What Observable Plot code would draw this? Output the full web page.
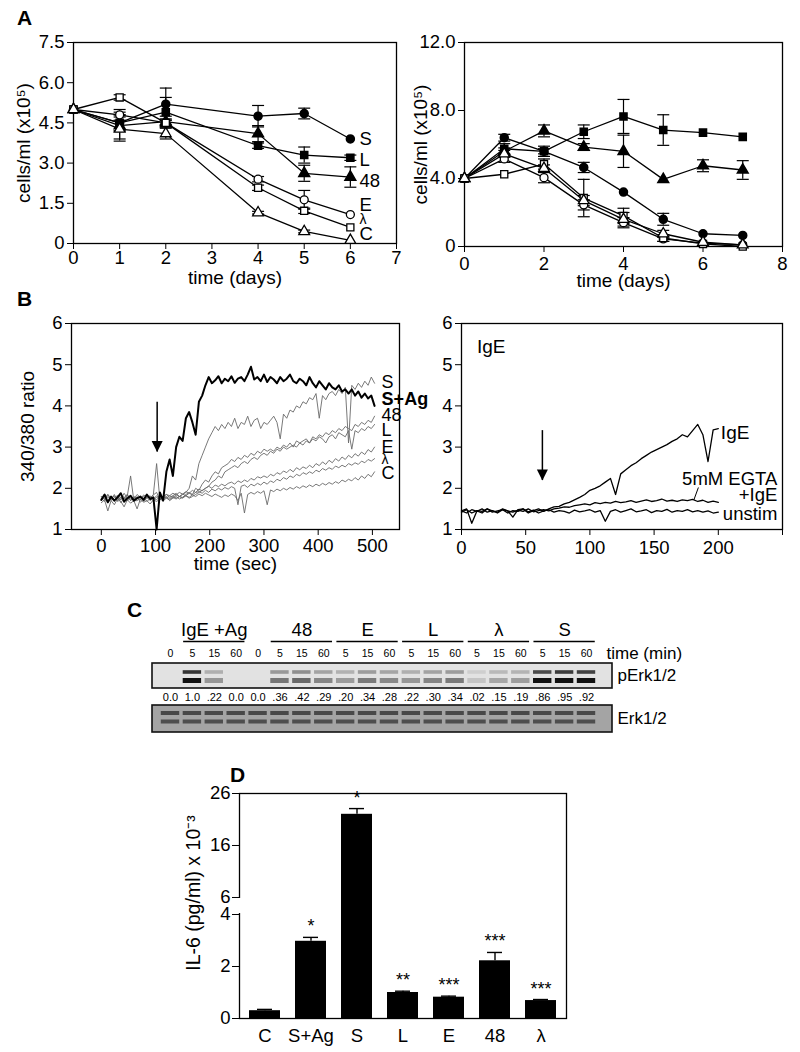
<!DOCTYPE html>
<html><head><meta charset="utf-8">
<script src="https://cdn.jsdelivr.net/npm/d3@7"></script>
<script src="https://cdn.jsdelivr.net/npm/@observablehq/plot@0.6"></script>
<style>
body{margin:0;background:#fff;}
#fig{position:relative;width:800px;height:1052px;overflow:hidden;font-family:"Liberation Sans",Arial,Helvetica,sans-serif;color:#000;background:#fff;}
.panel{position:absolute;}
.letter{position:absolute;font-weight:bold;font-size:21px;line-height:1;}
</style></head><body><div id="fig"></div>
<script>
// ---------- Panel A data (cells/ml x10^5) ----------
const seriesNames   = ["S","L","48","E","λ","C"];
const seriesSymbols = ["circle","square","triangle","circle","square","triangle"];
const filledSeries  = ["S","L","48"];

const daysA1 = [0,1,2,4,5,6];
const A1_S  = [5.0, 4.50, 5.20, 4.75, 4.85, 3.90];
const A1_L  = [5.0, 4.50, 4.90, 3.65, 3.30, 3.20];
const A1_48 = [5.0, 4.40, 4.55, 4.10, 2.62, 2.48];
const A1_E  = [5.0, 4.80, 4.50, 2.40, 1.63, 1.08];
const A1_La = [5.0, 5.45, 4.50, 2.08, 1.22, 0.60];
const A1_C  = [5.0, 4.27, 4.10, 1.15, 0.45, 0.12];
const A1_S_err  = [0, 0.30, 0.60, 0.40, 0.20, 0];
const A1_L_err  = [0, 0.30, 0.55, 0.10, 0.30, 0.10];
const A1_48_err = [0, 0.50, 0.20, 0.30, 0.30, 0.38];
const A1_E_err  = [0, 0.20, 0.15, 0.10, 0.35, 0];
const A1_La_err = [0, 0.10, 0.10, 0.10, 0.10, 0];
const A1_C_err  = [0, 0.45, 0.20, 0.05, 0.05, 0];
const A1_labelY = [3.90, 3.12, 2.34, 1.45, 0.91, 0.35];

const daysA2 = [0,1,2,3,4,5,6,7];
const A2_S  = [4.0, 6.40, 5.60, 4.65, 3.20, 1.60, 0.75, 0.65];
const A2_L  = [4.0, 5.75, 5.60, 6.75, 7.65, 6.85, 6.70, 6.45];
const A2_48 = [4.0, 5.60, 6.80, 5.85, 5.60, 3.95, 4.75, 4.50];
const A2_E  = [4.0, 5.15, 4.05, 2.45, 1.40, 0.45, 0.20, 0.10];
const A2_La = [4.0, 4.25, 4.85, 2.85, 1.80, 0.50, 0.15, 0.00];
const A2_C  = [4.0, 5.45, 4.60, 2.70, 1.60, 0.75, 0.25, 0.10];
const A2_S_err  = [0, 0.20, 0.15, 0.30, 0, 0.35, 0, 0];
const A2_L_err  = [0, 0.30, 0.30, 0.40, 1.00, 0.90, 0, 0];
const A2_48_err = [0, 0.20, 0.35, 0.20, 0.95, 0, 0.35, 0.55];
const A2_E_err  = [0, 0.20, 0.30, 0.30, 0.30, 0.15, 0, 0];
const A2_La_err = [0, 0, 0.30, 1.10, 0.45, 0.20, 0, 0];
const A2_C_err  = [0, 0.20, 0.20, 0.30, 0.40, 0.20, 0, 0];

// ---------- Panel B data (340/380 ratio) ----------
const tB1 = d3.range(0, 505, 6); // sample times, s
const B1_SAg = [1.72,1.85,1.66,1.80,1.70,1.78,1.88,1.68,1.75,1.82,1.70,1.76,1.80,1.72,1.85,1.74,1.78,
  1.00,1.90,1.70,2.40,2.70,2.30,3.00,3.25,3.15,3.70,3.85,3.60,3.30,4.10,4.25,4.50,4.70,
  4.55,4.62,4.72,4.55,4.66,4.60,4.72,4.56,4.66,4.70,4.60,4.76,4.95,4.64,4.70,4.60,4.76,4.58,4.70,4.64,4.55,4.70,4.60,4.66,4.76,4.60,4.55,4.66,4.60,4.50,4.70,4.55,4.45,4.60,4.50,4.40,4.55,4.45,4.40,4.50,4.35,4.40,4.30,4.40,4.25,4.35,4.20,4.30,4.18,4.25,4.00];
const B1_S = [1.80,1.75,1.85,1.70,1.78,1.82,1.72,1.88,1.76,1.80,1.74,1.85,1.78,1.70,1.82,1.76,1.84,1.90,1.72,1.80,1.85,1.78,1.82,1.88,1.80,1.85,1.90,
  2.00,2.30,2.20,2.60,2.80,3.00,3.20,3.35,3.50,
  3.40,3.55,3.45,3.60,3.50,3.70,3.45,3.60,3.55,3.75,3.50,3.65,3.70,3.45,3.60,3.55,3.65,3.75,3.60,3.20,3.80,3.70,3.90,3.85,4.00,3.95,4.10,4.05,4.20,4.15,4.30,3.70,4.25,4.15,4.30,4.35,4.25,4.40,4.30,4.45,3.10,4.50,4.40,4.55,4.45,4.60,4.50,4.70,4.55];
const B1_48 = [1.75,1.68,1.80,1.72,1.85,1.70,1.78,1.65,1.82,2.30,1.70,1.70,1.76,1.80,1.68,1.75,1.85,2.60,1.72,1.78,1.80,1.74,1.82,1.76,1.80,1.78,
  1.85,1.90,1.85,2.00,1.95,2.10,2.20,2.15,2.30,2.40,2.35,2.50,2.55,2.60,2.70,2.65,2.75,2.70,2.80,2.75,2.85,2.80,2.90,2.85,2.95,2.90,2.95,2.90,3.00,2.95,3.05,3.00,3.10,3.00,3.15,3.10,3.15,3.20,3.10,3.25,3.20,3.30,3.25,3.35,3.30,3.40,3.35,3.45,3.40,3.50,3.45,3.40,3.55,3.50,3.60,3.55,3.65,3.60,3.75];
const B1_L = [1.70,1.78,1.65,1.75,1.82,1.68,1.74,1.80,1.70,1.76,1.72,1.80,1.66,1.74,1.78,1.70,1.76,1.72,1.80,1.74,1.78,1.70,1.76,1.80,1.74,1.78,1.82,1.76,1.80,
  1.85,1.90,1.95,2.00,2.05,2.15,2.20,2.30,2.25,2.40,2.45,2.50,2.55,2.50,2.60,2.65,2.60,2.70,2.75,2.70,2.80,2.85,2.80,2.90,2.85,2.95,2.90,3.00,2.95,3.00,3.05,3.00,3.10,3.05,3.15,3.10,3.20,3.15,3.25,3.20,3.10,3.25,3.30,3.20,3.35,3.30,3.25,3.40,2.95,3.40,3.35,3.45,3.40,3.50,3.45,3.55];
const B1_E = [1.80,1.72,1.85,1.76,1.70,1.82,1.78,1.74,1.86,1.70,1.80,1.76,1.72,1.84,1.78,1.80,1.74,1.82,1.76,1.80,
  1.85,1.82,1.88,1.84,1.90,1.86,1.92,1.88,1.95,1.90,1.98,1.94,2.00,2.05,2.00,2.08,2.04,2.10,2.06,2.12,2.15,2.10,2.18,2.14,2.20,2.16,2.24,2.20,2.28,2.25,2.30,2.26,2.34,2.30,2.38,2.34,2.42,2.38,2.46,2.40,2.50,2.45,2.52,2.48,2.56,2.50,2.60,2.55,2.64,2.58,2.68,2.62,2.72,2.66,2.76,2.70,2.80,2.74,2.84,2.78,2.88,2.82,2.94,2.88,3.00];
const B1_La = [1.75,1.82,1.68,1.78,1.72,1.80,1.65,1.76,1.84,1.70,1.78,1.74,1.80,1.68,1.76,1.82,1.72,1.78,1.74,1.80,1.76,1.82,1.78,1.84,1.80,1.86,1.82,1.88,1.84,1.90,
  1.92,1.88,1.95,1.90,1.98,1.94,2.00,1.96,2.02,1.98,2.04,2.00,1.60,2.05,2.08,2.02,2.10,2.06,2.12,2.08,2.15,2.10,2.18,2.14,2.22,2.18,2.26,2.22,2.30,2.26,2.34,2.30,2.38,2.34,2.40,2.36,2.44,2.40,2.48,2.44,2.50,2.46,2.54,2.50,2.56,2.52,2.60,2.56,2.62,2.58,2.66,2.62,2.70,2.66,2.72];
const B1_C = [1.65,1.72,1.45,1.70,1.60,1.75,1.68,1.55,1.72,1.64,1.70,1.50,1.74,1.66,1.70,1.62,1.72,1.68,1.74,1.70,1.76,1.72,1.78,1.74,1.80,1.76,1.82,1.78,1.84,1.80,
  1.86,1.82,1.88,1.84,1.80,1.86,1.82,1.78,1.84,1.80,1.86,1.82,1.70,1.88,1.40,1.85,1.90,1.86,1.92,1.88,1.94,1.60,1.96,1.92,1.98,1.94,2.00,1.96,2.02,1.98,2.04,2.00,2.06,2.02,2.08,2.04,2.10,2.06,2.12,2.08,2.14,2.10,2.16,2.12,2.20,2.16,2.22,2.18,2.26,2.20,2.30,2.24,2.34,2.28,2.40];
const B1_labels = ["S","S+Ag","48","L","E","λ","C"];
const B1_labelY = [4.57, 4.16, 3.77, 3.40, 2.99, 2.70, 2.36];
const B1_arrow = [{t: 103, top: 4.09, tip: 2.88}];

const tB2 = d3.range(0, 201, 4);
const B2_IgE = [1.45,1.50,1.15,1.45,1.40,1.50,1.45,1.42,1.50,1.45,1.30,1.48,1.50,1.40,1.46,1.50,1.44,1.50,1.55,1.56,
  1.62,1.66,1.72,1.78,1.85,1.95,2.00,2.06,2.15,2.24,1.85,2.35,2.45,2.55,2.62,2.72,2.80,2.88,2.94,3.00,
  3.06,3.14,3.20,3.30,3.25,3.40,3.55,3.30,2.65,3.42,3.45];
const B2_EGTA = [1.45,1.40,1.48,1.44,1.50,1.42,1.46,1.40,1.48,1.45,1.42,1.47,1.44,1.50,1.43,1.46,1.48,1.45,1.50,1.52,
  1.55,1.54,1.58,1.60,1.62,1.60,1.65,1.63,1.66,1.64,1.68,1.65,1.67,1.70,1.66,1.69,1.72,1.68,1.70,1.74,
  1.69,1.71,1.68,1.72,1.70,1.73,1.68,1.71,1.66,1.69,1.66];
const B2_unstim = [1.42,1.48,1.40,1.46,1.44,1.50,1.42,1.45,1.48,1.40,1.46,1.44,1.50,1.43,1.47,1.40,1.45,1.48,1.42,1.46,
  1.44,1.40,1.47,1.43,1.45,1.48,1.42,1.46,1.20,1.44,1.48,1.42,1.46,1.50,1.43,1.45,1.48,1.41,1.46,1.44,
  1.49,1.42,1.46,1.44,1.48,1.43,1.46,1.42,1.45,1.40,1.42];
const B2_arrow = [{t: 63, top: 3.40, tip: 2.19}];

// ---------- Panel C data (western blot) ----------
const laneTimes = ["0","5","15","60","0","5","15","60","5","15","60","5","15","60","5","15","60","5","15","60"];
const quantP = ["0.0","1.0",".22","0.0","0.0",".36",".42",".29",".20",".34",".28",".22",".30",".34",".02",".15",".19",".86",".95",".92"];
const groupNames = ["IgE +Ag","48","E","L","λ","S"];
const groupFirst = [1,5,8,11,14,17];
const groupLast  = [3,7,10,13,16,19];

// ---------- Panel D data (IL-6) ----------
const il6Cats   = ["C","S+Ag","S","L","E","48","λ"];
const il6Values = [0.30, 2.97, 22.0, 1.00, 0.82, 2.22, 0.69];
const il6Err    = [0.05, 0.15, 1.10, 0.05, 0.04, 0.32, 0.04];
const il6Stars  = ["", "*", "*", "**", "***", "***", "***"];
const il6Ticks  = [0, 2, 4, 6, 16, 26];
const il6Break  = [4, 6];

// ---------- helpers ----------
const FONT = '"Liberation Sans", Arial, Helvetica, sans-serif';
const baseStyle = {fontFamily: FONT, fontSize: "18.5px", color: "black", background: "transparent", overflow: "visible"};
const fig = document.getElementById("fig");
function place(node, left, top, w) {
  const d = document.createElement("div");
  d.className = "panel"; d.style.left = left + "px"; d.style.top = top + "px"; d.style.width = w + "px";
  d.appendChild(node); fig.appendChild(d);
}
function letter(txt, left, top) {
  const d = document.createElement("div");
  d.className = "letter"; d.textContent = txt; d.style.left = left + "px"; d.style.top = top + "px";
  fig.appendChild(d);
}
const capSymbol = {draw(ctx) { ctx.moveTo(-6, 0); ctx.lineTo(6, 0); }};
const arrowHead = {draw(ctx) { ctx.moveTo(0, 0); ctx.lineTo(-5.5, -11); ctx.lineTo(5.5, -11); ctx.closePath(); }};
const fmt1 = d => d === 0 ? "0" : d.toFixed(1);
const fmtInt = d => String(d);
const labelSize = s => s === "λ" ? 14 : 18.5;

function growthRows(days, list) {
  const rows = [];
  list.forEach(([name, vals, errs]) => vals.forEach((v, i) => rows.push({series: name, day: days[i], value: v, err: errs[i]})));
  return rows;
}
function growthPlot(rows, o) {
  const withErr = rows.filter(d => d.err > 0);
  return Plot.plot({
    width: 400, height: 300,
    marginLeft: o.ml, marginRight: o.mr, marginTop: o.mt, marginBottom: o.mb,
    style: baseStyle,
    x: {domain: o.xDomain, ticks: o.xTicks, tickSize: 6, tickPadding: o.xPad, tickFormat: fmtInt, label: null},
    y: {domain: o.yDomain, ticks: o.yTicks, tickSize: 6, tickPadding: 3, tickFormat: fmt1, label: null},
    symbol: {domain: seriesNames, range: seriesSymbols},
    marks: [
      Plot.frame({stroke: "black", strokeWidth: 1.3}),
      Plot.ruleX(withErr, {x: "day", y1: d => d.value - d.err, y2: d => d.value + d.err, stroke: "black", strokeWidth: 1.2}),
      Plot.dot(withErr, {x: "day", y: d => d.value + d.err, symbol: capSymbol, fill: "none", stroke: "black", strokeWidth: 1.2}),
      Plot.dot(withErr, {x: "day", y: d => d.value - d.err, symbol: capSymbol, fill: "none", stroke: "black", strokeWidth: 1.2}),
      Plot.line(rows, {x: "day", y: "value", z: "series", stroke: "black", strokeWidth: 1.3}),
      Plot.dot(rows.filter(d => filledSeries.includes(d.series)), {x: "day", y: "value", symbol: "series", r: 4, fill: "black", stroke: "black"}),
      Plot.dot(rows.filter(d => !filledSeries.includes(d.series)), {x: "day", y: "value", symbol: "series", r: 4, fill: "white", stroke: "black", strokeWidth: 1.3}),
      Plot.text(["time (days)"], {frameAnchor: "bottom", dy: o.xLabDy, textAnchor: "middle", fontSize: 19}),
      Plot.text(["cells/ml (x10⁵)"], {frameAnchor: "left", dx: o.yLabDx, rotate: -90, textAnchor: "middle", fontSize: 19}),
      ...(o.labels || [])
    ]
  });
}

// ---------- Panel A ----------
const rowsA1 = growthRows(daysA1, [["S", A1_S, A1_S_err], ["L", A1_L, A1_L_err], ["48", A1_48, A1_48_err],
  ["E", A1_E, A1_E_err], ["λ", A1_La, A1_La_err], ["C", A1_C, A1_C_err]]);
const labelsA1 = seriesNames.map((s, i) => ({s, y: A1_labelY[i]}));
place(growthPlot(rowsA1, {ml: 73, mr: 4, mt: 42, mb: 57, xDomain: [0, 7], xTicks: [0,1,2,3,4,5,6,7], xPad: 1,
  yDomain: [0, 7.5], yTicks: [0, 1.5, 3, 4.5, 6, 7.5], xLabDy: 40, yLabDx: -50,
  labels: [
    Plot.text(labelsA1.filter(d => d.s !== "λ"), {x: 6.2, y: "y", text: "s", textAnchor: "start", fontSize: 18.5}),
    Plot.text(labelsA1.filter(d => d.s === "λ"), {x: 6.2, y: "y", text: "s", textAnchor: "start", fontSize: 14})
  ]}), 0, 0, 400);

const rowsA2 = growthRows(daysA2, [["S", A2_S, A2_S_err], ["L", A2_L, A2_L_err], ["48", A2_48, A2_48_err],
  ["E", A2_E, A2_E_err], ["λ", A2_La, A2_La_err], ["C", A2_C, A2_C_err]]);
place(growthPlot(rowsA2, {ml: 64, mr: 18, mt: 42, mb: 54, xDomain: [0, 8], xTicks: [0,2,4,6,8], xPad: 4,
  yDomain: [0, 12], yTicks: [0, 4, 8, 12], xLabDy: 40, yLabDx: -44}), 400, 0, 400);

// ---------- Panel B ----------
const traceRows = (times, vals, name) => vals.map((v, i) => ({t: times[i], v, name}));
const grayB1 = [].concat(traceRows(tB1, B1_S, "S"), traceRows(tB1, B1_48, "48"), traceRows(tB1, B1_L, "L"),
  traceRows(tB1, B1_E, "E"), traceRows(tB1, B1_La, "λ"), traceRows(tB1, B1_C, "C"));
const sagB1 = traceRows(tB1, B1_SAg, "S+Ag");
const labelsB1 = B1_labels.map((s, i) => ({s, y: B1_labelY[i]}));

place(Plot.plot({
  width: 400, height: 300, marginLeft: 71, marginRight: 1, marginTop: 43, marginBottom: 51,
  style: baseStyle,
  x: {domain: [-55, 550], ticks: [0,100,200,300,400,500], tickSize: 6, tickFormat: fmtInt, label: null},
  y: {domain: [1, 6], ticks: [1,2,3,4,5,6], tickSize: 6, tickFormat: fmtInt, label: null},
  marks: [
    Plot.frame({stroke: "black", strokeWidth: 1.3}),
    Plot.line(grayB1, {x: "t", y: "v", z: "name", stroke: "#6a6a6a", strokeWidth: 0.9}),
    Plot.line(sagB1, {x: "t", y: "v", stroke: "black", strokeWidth: 2}),
    Plot.ruleX(B1_arrow, {x: "t", y1: "top", y2: "tip", stroke: "black", strokeWidth: 1.5}),
    Plot.dot(B1_arrow, {x: "t", y: "tip", symbol: arrowHead, fill: "black", stroke: "none"}),
    Plot.text(labelsB1.filter(d => d.s !== "S+Ag" && d.s !== "λ"), {x: 517, y: "y", text: "s", textAnchor: "start", fontSize: 18}),
    Plot.text(labelsB1.filter(d => d.s === "λ"), {x: 517, y: "y", text: "s", textAnchor: "start", fontSize: 14}),
    Plot.text(labelsB1.filter(d => d.s === "S+Ag"), {x: 517, y: "y", text: "s", textAnchor: "start", fontSize: 18, fontWeight: "bold"}),
    Plot.text(["time (sec)"], {frameAnchor: "bottom", dy: 40, textAnchor: "middle", fontSize: 19}),
    Plot.text(["340/380 ratio"], {frameAnchor: "left", dx: -44, rotate: -90, textAnchor: "middle", fontSize: 19})
  ]
}), 0, 280, 400);

const rowsB2 = [].concat(traceRows(tB2, B2_IgE, "IgE"), traceRows(tB2, B2_EGTA, "EGTA"), traceRows(tB2, B2_unstim, "unstim"));
place(Plot.plot({
  width: 400, height: 300, marginLeft: 61, marginRight: 18, marginTop: 43, marginBottom: 51,
  style: baseStyle,
  x: {domain: [0, 250], ticks: [0,50,100,150,200,250], tickSize: 6, tickPadding: 5, tickFormat: d => d === 250 ? "" : String(d), label: null},
  y: {domain: [1, 6], ticks: [1,2,3,4,5,6], tickSize: 6, tickFormat: fmtInt, label: null},
  marks: [
    Plot.frame({stroke: "black", strokeWidth: 1.3}),
    Plot.line(rowsB2, {x: "t", y: "v", z: "name", stroke: "black", strokeWidth: 1.3}),
    Plot.ruleX(B2_arrow, {x: "t", y1: "top", y2: "tip", stroke: "black", strokeWidth: 1.5}),
    Plot.dot(B2_arrow, {x: "t", y: "tip", symbol: arrowHead, fill: "black", stroke: "none"}),
    Plot.link([{x1: 181, y1: 1.72, x2: 184.5, y2: 2.02}], {x1: "x1", y1: "y1", x2: "x2", y2: "y2", stroke: "black", strokeWidth: 1}),
    Plot.text(["IgE"], {x: 12, y: 5.44, textAnchor: "start", fontSize: 19}),
    Plot.text(["IgE"], {x: 202, y: 3.35, textAnchor: "start", fontSize: 19}),
    Plot.text(["5mM EGTA"], {x: 246, y: 2.23, textAnchor: "end", fontSize: 18.5}),
    Plot.text(["+IgE"], {x: 246, y: 1.84, textAnchor: "end", fontSize: 18.5}),
    Plot.text(["unstim"], {x: 246, y: 1.38, textAnchor: "end", fontSize: 18.5})
  ]
}), 400, 280, 400);

// ---------- Panel C (blot) ----------
const lanes = laneTimes.map((t, i) => ({lane: i, time: t, qLabel: quantP[i], q: +quantP[i]}));
const groups = groupNames.map((g, i) => ({g, first: groupFirst[i], last: groupLast[i]}));
const R = {group: 30, line: 41, lane: 53, pTop: 63, pBot: 88, pUp: 72, pLow: 80.5, quant: 97, eTop: 105, eBot: 132, eUp: 113, eLow: 121.5};
const lastLane = laneTimes.length - 1;
place(Plot.plot({
  width: 800, height: 150, margin: 0,
  style: {...baseStyle, fontSize: "11px"},
  x: {domain: [0, lastLane], range: [170, 586], axis: null},
  y: {domain: [0, 150], range: [0, 150], axis: null},
  opacity: {type: "identity"},
  marks: [
    Plot.rect([0], {x1: 0, x2: lastLane, y1: R.pTop, y2: R.pBot, insetLeft: -18, insetRight: -26, fill: "#e2e2e2", stroke: "#111", strokeWidth: 1.6}),
    Plot.rect(lanes.filter(d => d.q > 0), {x1: d => d.lane - 0.42, x2: d => d.lane + 0.42, y1: R.pUp - 1.8, y2: R.pUp + 1.8, fill: "#111", fillOpacity: d => Math.min(0.9, 0.08 + d.q * 0.75)}),
    Plot.rect(lanes.filter(d => d.q > 0), {x1: d => d.lane - 0.42, x2: d => d.lane + 0.42, y1: R.pLow - 2.5, y2: R.pLow + 2.5, fill: "#111", fillOpacity: d => Math.min(1, 0.12 + d.q * 1.1)}),
    Plot.rect([0], {x1: 0, x2: lastLane, y1: R.eTop, y2: R.eBot, insetLeft: -18, insetRight: -26, fill: "#a4a4a4", stroke: "#111", strokeWidth: 1.6}),
    Plot.rect(lanes, {x1: d => d.lane - 0.42, x2: d => d.lane + 0.42, y1: R.eUp - 2, y2: R.eUp + 2, fill: "#2a2a2a", fillOpacity: 0.75}),
    Plot.rect(lanes, {x1: d => d.lane - 0.42, x2: d => d.lane + 0.42, y1: R.eLow - 2, y2: R.eLow + 2, fill: "#2a2a2a", fillOpacity: 0.7}),
    Plot.text(groups, {x: d => (d.first + d.last) / 2, y: R.group, text: "g", fontSize: 18.5}),
    Plot.ruleY(groups, {x1: d => d.first - 0.4, x2: d => d.last + 0.4, y: R.line, stroke: "black", strokeWidth: 1.3}),
    Plot.text(lanes, {x: "lane", y: R.lane, text: "time", fontSize: 10.5}),
    Plot.text(lanes, {x: "lane", y: R.quant, text: "qLabel", fontSize: 11}),
    Plot.text(["time (min)"], {x: lastLane, y: R.lane, dx: 20, textAnchor: "start", fontSize: 17}),
    Plot.text(["pErk1/2"], {x: lastLane, y: (R.pTop + R.pBot) / 2, dx: 31, textAnchor: "start", fontSize: 17}),
    Plot.text(["Erk1/2"], {x: lastLane, y: (R.eTop + R.eBot) / 2, dx: 31, textAnchor: "start", fontSize: 17})
  ]
}), 0, 600, 800);

// ---------- Panel D (broken y axis: 0–4 full scale, 6–26 compressed) ----------
const il6UpperScale = 0.2;   // upper segment drawn at 1/5 of the lower segment's scale
const il6GapUnits = 0.654;   // visual gap of the axis break, in lower-segment units
const il6Pos = v => v <= il6Break[0] ? v : il6Break[0] + il6GapUnits + (v - il6Break[1]) * il6UpperScale;
const il6TickLabel = new Map(il6Ticks.map(t => [il6Pos(t), String(t)]));
const il6 = il6Cats.map((c, i) => ({cat: c, value: il6Values[i], err: il6Err[i], star: il6Stars[i], top: il6Values[i] + il6Err[i]}));
const D_W = 800, D_ML = 239, D_MR = 234;
place(Plot.plot({
  width: D_W, height: 292, marginLeft: D_ML, marginRight: D_MR, marginTop: 33, marginBottom: 34,
  style: {...baseStyle, fontSize: "18.5px"},
  x: {domain: il6Cats, paddingInner: 0.33, paddingOuter: 0.18, tickSize: 0, tickPadding: 10, label: null},
  y: {domain: [0, il6Pos(il6Ticks[il6Ticks.length - 1])], ticks: il6Ticks.map(il6Pos), tickFormat: d => il6TickLabel.get(d), tickSize: 7, tickPadding: 2, label: null},
  marks: [
    Plot.barY(il6, {x: "cat", y: d => il6Pos(d.value), fill: "black"}),
    Plot.ruleX(il6, {x: "cat", y1: d => il6Pos(d.value), y2: d => il6Pos(d.top), stroke: "black", strokeWidth: 1.4}),
    Plot.tickY(il6, {x: "cat", y: d => il6Pos(d.top), stroke: "black", strokeWidth: 1.4, insetLeft: 8, insetRight: 8}),
    Plot.text(il6, {x: "cat", y: d => il6Pos(d.top), text: "star", lineAnchor: "bottom", dy: -5, fontSize: 18}),
    Plot.frame({stroke: "black", strokeWidth: 1.3}),
    Plot.rect([il6Break], {y1: d => il6Pos(d[0]), y2: d => il6Pos(d[1]), insetTop: 1, insetBottom: 1, insetLeft: -3, insetRight: D_W - D_ML - D_MR - 3, fill: "white"}),
    Plot.text(["IL-6 (pg/ml) x 10⁻³"], {frameAnchor: "left", dx: -46, dy: -13, rotate: -90, textAnchor: "middle", fontSize: 19.5})
  ]
}), 0, 760, 800);

// ---------- panel letters ----------
letter("A", 17, 7);
letter("B", 17, 288);
letter("C", 127, 599);
letter("D", 230, 764);
</script></body></html>
